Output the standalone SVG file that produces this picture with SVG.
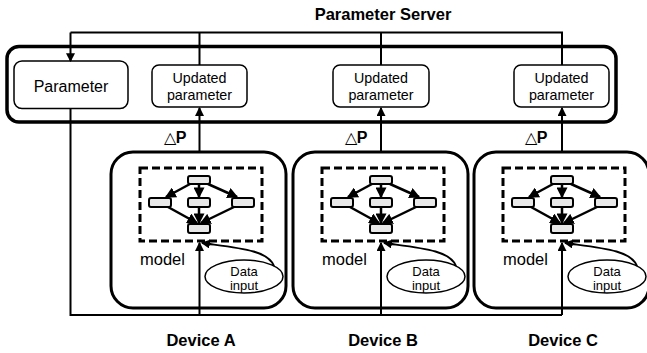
<svg xmlns="http://www.w3.org/2000/svg" width="647" height="353" viewBox="0 0 647 353">
<defs>
<style>
text{font-family:"Liberation Sans",Arial,sans-serif;fill:#000}
.b{font-weight:bold;font-size:16.5px}
.u{font-size:14.3px}
.box{fill:#fff;stroke:#000;stroke-width:1.5}
.dev{fill:#fff;stroke:#000;stroke-width:3}
.mdl{fill:none;stroke:#000;stroke-width:3;stroke-dasharray:8 4}
.gn{fill:#e8e8e8;stroke:#000;stroke-width:2}
.ge{fill:none;stroke:#000;stroke-width:2.5;marker-end:url(#ah)}
.c{fill:none;stroke:#000;stroke-width:2}
.ca{fill:none;stroke:#000;stroke-width:2;marker-end:url(#ah2)}
</style>
<marker id="ah" markerUnits="userSpaceOnUse" markerWidth="11" markerHeight="11" refX="7" refY="4" orient="auto" viewBox="0 0 8 8"><path d="M0,0 L8,4 L0,8 z" fill="#000"/></marker>
<marker id="ah2" markerUnits="userSpaceOnUse" markerWidth="9" markerHeight="9" refX="7" refY="4" orient="auto" viewBox="0 0 8 8"><path d="M0,0 L8,4 L0,8 z" fill="#000"/></marker>
<g id="devshape">
<rect class="dev" x="111" y="152" width="175" height="156" rx="22"/>
<rect class="mdl" x="140" y="168" width="122" height="73"/>
<rect class="gn" x="188" y="176" width="22" height="8" rx="2"/>
<rect class="gn" x="149" y="198" width="22" height="9" rx="2"/>
<rect class="gn" x="188" y="198" width="22" height="9" rx="2"/>
<rect class="gn" x="232" y="198" width="22" height="9" rx="2"/>
<rect class="gn" x="188" y="224" width="22" height="9" rx="2"/>
<path class="ge" d="M190 184 L166 197"/>
<path class="ge" d="M199 184 L199 197"/>
<path class="ge" d="M208 184 L237 197"/>
<path class="ge" d="M168 207 L197 223"/>
<path class="ge" d="M199 207 L199 223"/>
<path class="ge" d="M234 207 L201 223"/>
<text x="140" y="265" font-size="16.5">model</text>
<ellipse cx="244" cy="276.5" rx="39" ry="16.5" fill="#fff" stroke="#000" stroke-width="1.5"/>
<text x="244" y="276" font-size="13" text-anchor="middle">Data</text>
<text x="244" y="290" font-size="13" text-anchor="middle">input</text>
<path class="ca" d="M274 266 C268 250, 238 248, 202 243"/>
</g>
</defs>

<text class="b" x="383" y="20" text-anchor="middle" font-size="16">Parameter Server</text>

<g id="server">
<rect x="7" y="46.5" width="609" height="75.5" rx="12" fill="#fff" stroke="#000" stroke-width="3.5"/>
</g>
<g id="parameter">
<rect class="box" x="14" y="61" width="114" height="47.5" rx="8"/>
<text x="71" y="91.5" font-size="16" text-anchor="middle">Parameter</text>
</g>
<g id="updatedA">
<rect class="box" x="152" y="65" width="95" height="42" rx="7"/>
<text class="u" x="199.5" y="83" text-anchor="middle">Updated</text>
<text class="u" x="199.5" y="100" text-anchor="middle">parameter</text>
</g>
<g id="updatedB">
<rect class="box" x="333" y="65" width="96" height="42" rx="7"/>
<text class="u" x="381" y="83" text-anchor="middle">Updated</text>
<text class="u" x="381" y="100" text-anchor="middle">parameter</text>
</g>
<g id="updatedC">
<rect class="box" x="514" y="65" width="95" height="42" rx="7"/>
<text class="u" x="561.5" y="83" text-anchor="middle">Updated</text>
<text class="u" x="561.5" y="100" text-anchor="middle">parameter</text>
</g>

<g id="deviceA">
<use href="#devshape"/>
<text class="b" x="201" y="345.5" text-anchor="middle">Device A</text>
</g>
<g id="deviceB">
<use href="#devshape" transform="translate(182,0)"/>
<text class="b" x="383" y="345.5" text-anchor="middle">Device B</text>
</g>
<g id="deviceC">
<use href="#devshape" transform="translate(363,0)"/>
<text class="b" x="563" y="345.5" text-anchor="middle">Device C</text>
</g>

<g id="connectors">
<path class="c" d="M562 65 V32.5 H70.5"/>
<path class="ca" d="M70.5 32.5 V61"/>
<path class="c" d="M199.5 32.5 V65"/>
<path class="c" d="M381 32.5 V65"/>
<path class="ca" d="M199.5 152 V108"/>
<path class="ca" d="M381 152 V108"/>
<path class="ca" d="M562 152 V108"/>
<path class="c" d="M70.5 108.5 V315 H562"/>
<path class="ca" d="M562 315 V243"/>
<path class="ca" d="M381 315 V243"/>
<path class="ca" d="M199.5 315 V243"/>
<text x="175" y="143" font-size="16" text-anchor="middle">△<tspan font-weight="bold">P</tspan></text>
<text x="356" y="143" font-size="16" text-anchor="middle">△<tspan font-weight="bold">P</tspan></text>
<text x="536" y="143" font-size="16" text-anchor="middle">△<tspan font-weight="bold">P</tspan></text>
</g>
</svg>
